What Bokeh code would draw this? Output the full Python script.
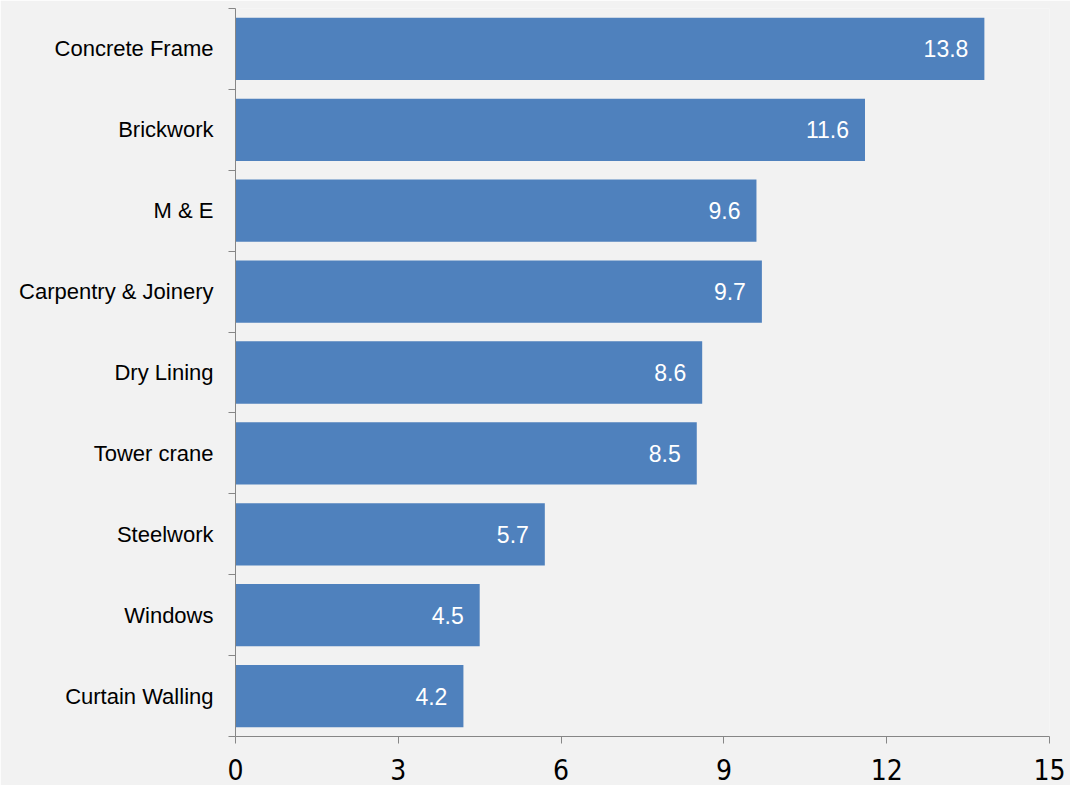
from bokeh.plotting import figure
from bokeh.models import ColumnDataSource, Range1d, FixedTicker, LabelSet
from bokeh.core.properties import value
from bokeh.embed import file_html
from bokeh.resources import INLINE

categories = ["Concrete Frame", "Brickwork", "M & E", "Carpentry & Joinery",
              "Dry Lining", "Tower crane", "Steelwork", "Windows", "Curtain Walling"]
values = [13.8, 11.6, 9.6, 9.7, 8.6, 8.5, 5.7, 4.5, 4.2]
x_ticks = [0, 3, 6, 9, 12, 15]

n = len(categories)
ypos = [n - i - 0.5 for i in range(n)]
labels = [f"{v:.1f}" for v in values]

src = ColumnDataSource(dict(y=ypos, v=values, cat=categories, lab=labels))

p = figure(width=1070, height=785, output_backend="svg", toolbar_location=None,
           x_range=Range1d(0, 15), y_range=Range1d(0, n),
           min_border_left=235, min_border_right=21, min_border_top=8, min_border_bottom=49)
p.background_fill_color = "#f2f2f2"
p.border_fill_color = "#f2f2f2"
p.outline_line_color = None
p.grid.grid_line_color = None

p.hbar(y="y", right="v", left=0, height=0.77, source=src,
       fill_color="#4f81bd", line_color=None)

lbl = LabelSet(x="v", y="y", text="lab", source=src, x_offset=-16,
               text_align="right", text_baseline="middle", text_color="white",
               text_font=value("Liberation Sans"), text_font_size="23px")
p.add_layout(lbl)

# x axis
p.xaxis.ticker = FixedTicker(ticks=x_ticks, minor_ticks=[])
p.xaxis.axis_line_color = "#868686"
p.xaxis.major_tick_line_color = "#868686"
p.xaxis.major_tick_out = 7
p.xaxis.major_tick_in = 0
p.xaxis.minor_tick_line_color = None
p.xaxis.major_label_text_font = "'DejaVu Sans Condensed', 'Liberation Sans'"
p.xaxis.major_label_text_font_size = "28px"
p.xaxis.major_label_text_color = "black"
p.xaxis.major_label_standoff = 15

# y axis: labels at centers, ticks at boundaries
p.yaxis.ticker = FixedTicker(ticks=ypos, minor_ticks=list(range(n + 1)))
p.yaxis.major_label_overrides = {y: c for y, c in zip(ypos, categories)}
p.yaxis.axis_line_color = "#868686"
p.yaxis.major_tick_out = 0
p.yaxis.major_tick_in = 0
p.yaxis.minor_tick_line_color = "#868686"
p.yaxis.minor_tick_out = 7
p.yaxis.minor_tick_in = 0
p.yaxis.major_label_text_font = "Liberation Sans"
p.yaxis.major_label_text_font_size = "22px"
p.yaxis.major_label_text_color = "black"
p.yaxis.major_label_standoff = 15

open("out.html", "w").write(file_html(p, INLINE))
